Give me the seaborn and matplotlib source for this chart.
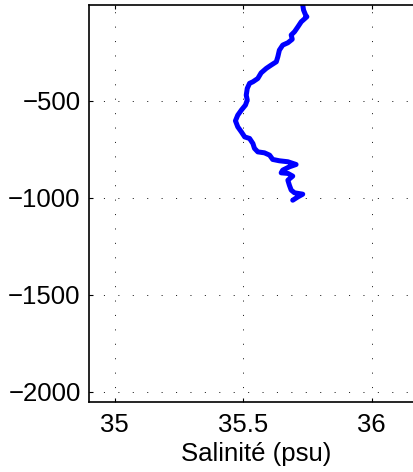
import matplotlib
matplotlib.use("Agg")
import matplotlib.pyplot as plt
import seaborn as sns
import pandas as pd

salinity = [35.732, 35.735, 35.743, 35.748, 35.726, 35.713, 35.700, 35.687, 35.691, 35.674,
            35.654, 35.641, 35.635, 35.629, 35.609, 35.590, 35.570, 35.557, 35.538, 35.525,
            35.516, 35.512, 35.516, 35.509, 35.493, 35.479, 35.470, 35.479, 35.493, 35.506,
            35.525, 35.538, 35.544, 35.557, 35.583, 35.603, 35.615, 35.641, 35.674, 35.706,
            35.680, 35.654, 35.648, 35.674, 35.693, 35.674, 35.680, 35.687, 35.700, 35.732,
            35.713, 35.693]
depth = [-7, -32, -58, -67, -93, -119, -144, -161, -183, -201,
         -213, -239, -273, -299, -316, -333, -356, -385, -402, -410,
         -436, -471, -496, -522, -548, -574, -603, -634, -660, -686,
         -694, -720, -745, -763, -768, -780, -802, -809, -814, -828,
         -840, -857, -871, -874, -888, -909, -935, -960, -974, -981,
         -995, -1012]
xticks = [35, 35.5, 36]
xticklabels = ["35", "35.5", "36"]
yticks = [-2000, -1500, -1000, -500]
yticklabels = ["\u22122000", "\u22121500", "\u22121000", "\u2212500"]

sns.set_style("white")
plt.rcParams['font.family'] = ['Liberation Sans', 'DejaVu Sans']

df = pd.DataFrame({"Salinite": salinity, "Depth": depth})

fig = plt.figure(figsize=(4.13, 4.72), dpi=100)
ax = fig.add_axes([89/413, (472-401.7)/472, (423-89)/413, (401.7-5.3)/472])
sns.lineplot(data=df, x="Salinite", y="Depth", sort=False, estimator=None,
             color="#0000ff", linewidth=3.6, ax=ax, solid_capstyle="round",
             solid_joinstyle="round")
ax.set_xlim(34.9, 36.2)
ax.set_ylim(-2050, -8)
ax.set_xticks(xticks)
ax.set_xticklabels(xticklabels, fontsize=18.5)
ax.set_yticks(yticks)
ax.set_yticklabels(yticklabels, fontsize=18.5)
ax.set_xlabel("Salinit\u00e9 (psu)", fontsize=18.5, labelpad=4, color="black")
ax.set_ylabel("")
ax.grid(True, color="black", linestyle=(0, (1.3, 16)), linewidth=0.6)
ax.tick_params(direction="in", length=3, width=0.8, top=True, right=True,
               bottom=True, left=True, colors="black")
ax.tick_params(axis="x", pad=8)
ax.tick_params(axis="y", pad=6)
for s in ax.spines.values():
    s.set_color("black")
    s.set_linewidth(1.2)
    s.set_visible(True)
ax.spines["right"].set_visible(False)

fig.savefig("out.png", dpi=100)
